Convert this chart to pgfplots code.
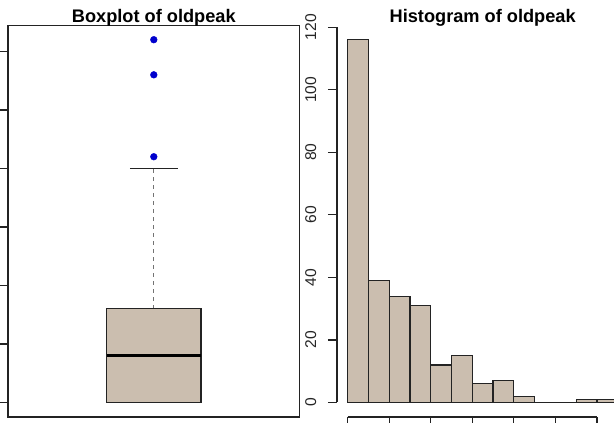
\documentclass[border=0pt]{standalone}
\usepackage{fontspec}
\setmainfont{Liberation Sans}
\usepackage{pgfplots}
\pgfplotsset{compat=1.18}

\definecolor{boxfill}{RGB}{203,190,175}
\definecolor{outlier}{RGB}{0,0,205}
\definecolor{edge}{RGB}{35,35,35}

% Shared look of the two base-graphics style panels
\pgfplotsset{
  rpanel/.style={
    scale only axis,
    width=291.6pt, height=391.8pt,
    anchor=south west,
    /pgf/number format/assume math mode=true,
    tick label style={font=\fontsize{15.6}{18}\selectfont, text=black!85},
    every axis title/.style={at={(0.5,1)}, anchor=base, yshift=2.5pt,
      font=\bfseries\fontsize{18.2}{20}\selectfont},
    tick align=outside,
    major tick length=9pt,
    every tick/.style={edge, line width=1.2pt},
    yticklabel style={rotate=90, anchor=south, inner sep=0pt},
    yticklabel shift=11.5pt,
  },
}

\begin{document}
\begin{tikzpicture}
\useasboundingbox (0,0) rectangle (614pt,423pt);
\clip (0,0) rectangle (614pt,423pt);

% ---- Boxplot of oldpeak ----
\begin{axis}[rpanel, at={(8pt,6pt)},
  xmin=0.5, xmax=1.5, ymin=-0.248, ymax=6.448,
  xtick=\empty, ytick={0,...,6}, ytick pos=left,
  axis line style={edge, line width=1.2pt},
  title={Boxplot of oldpeak}]
  % upper whisker (Q3 -> 4.0) and its staple
  \addplot[black!55, line width=1.2pt, dash pattern=on 4pt off 4pt]
    coordinates {(1,1.6) (1,4.0)};
  \addplot[edge, line width=1.2pt]
    coordinates {(0.9177,4.0) (1.0823,4.0)};
  % box from Q1 = 0 to Q3 = 1.6
  \addplot[fill=boxfill, draw=edge, line width=1.2pt]
    coordinates {(0.838,0) (1.162,0) (1.162,1.6) (0.838,1.6)} -- cycle;
  % median
  \addplot[black, line width=3pt]
    coordinates {(0.838,0.8) (1.162,0.8)};
  % outliers
  \addplot[only marks, mark=*, mark size=3.4pt, color=outlier]
    coordinates {(1,4.2) (1,5.6) (1,6.2)};
\end{axis}

% ---- Histogram of oldpeak ----
\begin{axis}[rpanel, at={(336.9pt,6pt)},
  xmin=-0.26, xmax=6.76, ymin=-4.64, ymax=120.64,
  axis lines*=left, axis line style={draw=none},
  xtick={0,...,6}, ytick={0,20,...,120},
  clip=false,
  title={Histogram of oldpeak}]
  \addplot[ybar, bar width=0.5, bar shift=0pt,
    fill=boxfill, draw=edge, line width=1.2pt]
    coordinates {(0.25,116) (0.75,39) (1.25,34) (1.75,31) (2.25,12)
                 (2.75,15) (3.25,6) (3.75,7) (4.25,2) (4.75,0)
                 (5.25,0) (5.75,1) (6.25,1)};
  \draw[edge, line width=1.2pt] (axis cs:-0.26,0) -- (axis cs:-0.26,120);
  \draw[edge, line width=1.2pt] (axis cs:0,-4.64) -- (axis cs:6,-4.64);
\end{axis}
\end{tikzpicture}
\end{document}
